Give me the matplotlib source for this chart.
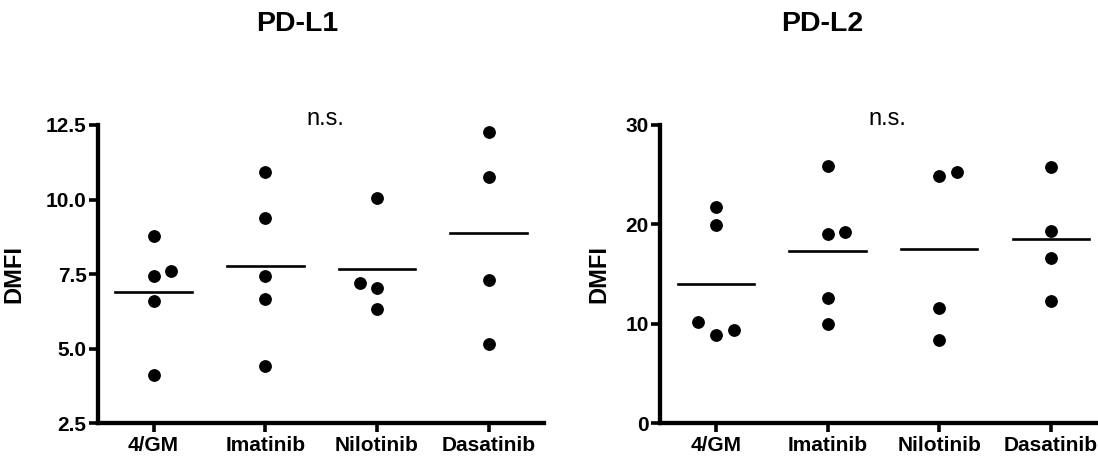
import matplotlib

matplotlib.use("Agg")
import matplotlib.pyplot as plt
import numpy as np

plt.rcParams["font.family"] = ["Liberation Sans", "DejaVu Sans"]

CATEGORIES = ["4/GM", "Imatinib", "Nilotinib", "Dasatinib"]

# PD-L1 DMFI values per group
PDL1_4GM = [8.79, 7.45, 7.61, 6.60, 4.12]
PDL1_IMATINIB = [10.94, 9.39, 7.45, 6.67, 4.42]
PDL1_NILOTINIB = [10.06, 7.19, 7.05, 6.33]
PDL1_DASATINIB = [12.28, 10.75, 7.30, 5.15]

# PD-L2 DMFI values per group
PDL2_4GM = [21.79, 19.94, 10.22, 8.85, 9.38]
PDL2_IMATINIB = [25.91, 19.04, 19.21, 12.64, 9.99]
PDL2_NILOTINIB = [24.90, 25.31, 11.56, 8.38]
PDL2_DASATINIB = [25.81, 19.34, 16.66, 12.33]

# horizontal spread of overlapping dots (scatter-dot layout)
PDL1_SPREAD = [[0, 0, 0.16, 0, 0], [0, 0, 0, 0, 0], [0, -0.155, 0, 0], [0, 0, 0, 0]]
PDL2_SPREAD = [[0, 0, -0.16, 0, 0.16], [0, 0, 0.16, 0, 0], [0, 0.16, 0, 0], [0, 0, 0, 0]]

W, H = 1098, 463


def panel(ax, groups, spread, ylim, yticks, fmt, label_x):
    for i, (vals, offs) in enumerate(zip(groups, spread)):
        xs = i + np.array(offs)
        ax.plot(xs, vals, "o", color="black", markersize=8.2, zorder=3, clip_on=False)
        m = np.mean(vals)
        ax.plot([i - 0.343, i + 0.343], [m, m], color="black", lw=1.9, zorder=2)
    ax.set_xlim(-0.5, 3.5)
    ax.set_ylim(*ylim)
    ax.set_yticks(yticks)
    ax.set_yticklabels([fmt.format(v) for v in yticks], fontsize=15, fontweight="bold")
    ax.set_xticks(range(len(CATEGORIES)))
    ax.set_xticklabels(CATEGORIES, fontsize=15, fontweight="bold")
    for s in ["top", "right"]:
        ax.spines[s].set_visible(False)
    for s in ["left", "bottom"]:
        ax.spines[s].set_linewidth(3.1)
        ax.spines[s].set_capstyle("projecting")
    ax.tick_params(axis="both", length=6.5, width=2.6, pad=2.5)
    ax.tick_params(axis="y", pad=1.5)
    ax.set_ylabel("DMFI", fontsize=17, fontweight="bold")
    ax.yaxis.set_label_coords(label_x, 0.5)
    ax.text(0.51, 1.0, "n.s.", transform=ax.transAxes, ha="center", va="baseline", fontsize=17)


fig = plt.figure(figsize=(W / 100, H / 100), dpi=100)
fig.patch.set_facecolor("white")

ax1 = fig.add_axes([97.7 / W, (H - 423.3) / H, 446.7 / W, 298.3 / H])
ax2 = fig.add_axes([660 / W, (H - 423.3) / H, 446.7 / W, 298.3 / H])

panel(ax1, [PDL1_4GM, PDL1_IMATINIB, PDL1_NILOTINIB, PDL1_DASATINIB], PDL1_SPREAD,
      (2.5, 12.5), [2.5, 5.0, 7.5, 10.0, 12.5], "{:.1f}", -0.163)
panel(ax2, [PDL2_4GM, PDL2_IMATINIB, PDL2_NILOTINIB, PDL2_DASATINIB], PDL2_SPREAD,
      (0, 30), [0, 10, 20, 30], "{:.0f}", -0.112)

fig.text(297.5 / W, 1 - 24 / H, "PD-L1", ha="center", va="center", fontsize=20.5, fontweight="bold")
fig.text(822.5 / W, 1 - 24 / H, "PD-L2", ha="center", va="center", fontsize=20.5, fontweight="bold")

fig.savefig("out.png", dpi=100, facecolor="white")
